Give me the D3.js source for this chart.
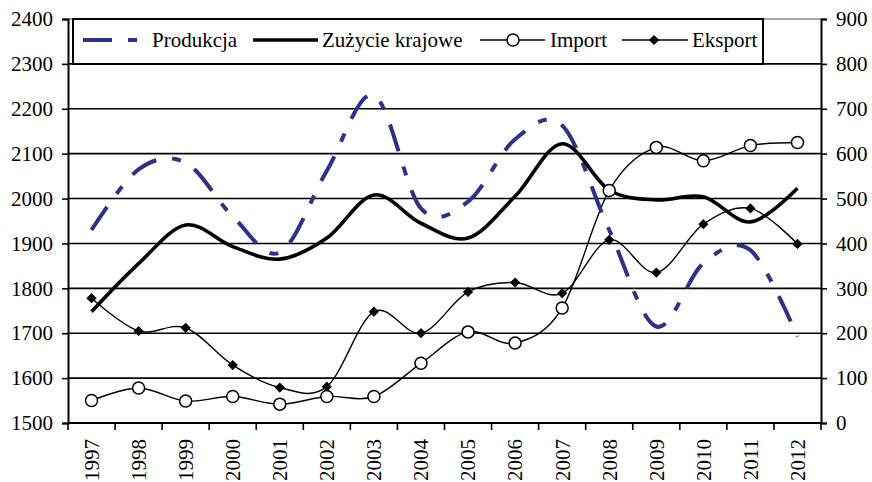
<!DOCTYPE html>
<html>
<head>
<meta charset="utf-8">
<script src="https://cdn.jsdelivr.net/npm/d3@7"></script>
<style>
  body { margin: 0; background: #fff; }
  svg text { font-family: "Liberation Serif", "Times New Roman", serif; fill: #000; }
</style>
</head>
<body>
<div id="chart"></div>
<script>
const years = ["1997","1998","1999","2000","2001","2002","2003","2004","2005","2006","2007","2008","2009","2010","2011","2012"]
// left axis
const produkcja = [1930,2065,2080,1960,1880,2062,2230,1978,1993,2132,2163,1930,1715,1856,1885,1692]
const zuzycie = [1748,1855,1941,1893,1865,1912,2008,1945,1912,2005,2122,2019,1997,2004,1948,2023]
// right axis
const importV = [50,78,49,59,42,59,59,133,203,178,256,518,614,584,618,625]
const eksport = [278,205,212,129,79,81,248,200,292,313,289,408,335,443,478,399]

const leftTicks = [1500,1600,1700,1800,1900,2000,2100,2200,2300,2400]
const rightTicks = [0,100,200,300,400,500,600,700,800,900]

const W = 872, H = 482
const plotL = 68, plotR = 821, plotT = 19, plotB = 423
const navy = "#2E3188"
const fs = 21

const svg = d3.select('#chart').append('svg')
              .attr('width', W)
              .attr('height', H)

const x = d3.scaleBand().domain(years).range([plotL, plotR])
const yL = d3.scaleLinear().domain([1500, 2400]).range([plotB, plotT])
const yR = d3.scaleLinear().domain([0, 900]).range([plotB, plotT])
const cx = d => x(d) + x.bandwidth() / 2

/* gridlines */
svg.append('g').selectAll('line')
   .data(leftTicks.slice(1))
   .enter().append('line')
   .attr('x1', plotL).attr('x2', plotR)
   .attr('y1', d => yL(d)).attr('y2', d => yL(d))
   .attr('stroke', d => d === 2400 ? '#888' : '#000')
   .attr('stroke-width', 1.6)

/* axes */
const gl = svg.append('g').attr('transform', `translate(${plotL},0)`)
  .call(d3.axisLeft(yL).tickValues(leftTicks).tickSize(6).tickPadding(9).tickFormat(d3.format('d')))
const gr = svg.append('g').attr('transform', `translate(${plotR},0)`)
  .call(d3.axisRight(yR).tickValues(rightTicks).tickSize(6).tickPadding(9).tickFormat(d3.format('d')))
;[gl, gr].forEach(g => {
  g.select('.domain').attr('stroke', '#000').attr('stroke-width', 2)
  g.selectAll('.tick line').attr('stroke', '#000').attr('stroke-width', 1.6)
  g.selectAll('.tick text').attr('font-size', fs).attr('font-family', '"Liberation Serif", serif')
})

// bottom axis line + ticks between categories
svg.append('line')
   .attr('x1', plotL).attr('x2', plotR)
   .attr('y1', plotB).attr('y2', plotB)
   .attr('stroke', '#000').attr('stroke-width', 2)
svg.append('g').selectAll('line')
   .data(years.map(d => x(d)).concat([plotR]))
   .enter().append('line')
   .attr('x1', d => d).attr('x2', d => d)
   .attr('y1', plotB).attr('y2', plotB + 7)
   .attr('stroke', '#000').attr('stroke-width', 1.6)
svg.append('g').selectAll('text')
   .data(years)
   .enter().append('text')
   .attr('transform', d => `translate(${cx(d)},439) rotate(-90)`)
   .attr('text-anchor', 'end')
   .attr('dy', '0.35em')
   .attr('font-size', fs)
   .text(d => d)

/* lines */
const curve = d3.curveCardinal.tension(0)
const lineL = d3.line().x((d, i) => cx(years[i])).y(d => yL(d)).curve(curve)
const lineR = d3.line().x((d, i) => cx(years[i])).y(d => yR(d)).curve(curve)

svg.append('path').attr('d', lineR(eksport))
   .attr('fill', 'none').attr('stroke', '#000').attr('stroke-width', 1.4)
svg.append('path').attr('d', lineR(importV))
   .attr('fill', 'none').attr('stroke', '#000').attr('stroke-width', 1.4)
svg.append('path').attr('d', lineL(produkcja))
   .attr('fill', 'none').attr('stroke', navy).attr('stroke-width', 4)
   .attr('stroke-dasharray', '28,16,9,16')
svg.append('path').attr('d', lineL(zuzycie))
   .attr('fill', 'none').attr('stroke', '#000').attr('stroke-width', 3.6)

// diamond = square turned 45 degrees
const diamond = d3.symbol().type(d3.symbolSquare).size(52)
svg.append('g').selectAll('path')
   .data(eksport)
   .enter().append('path')
   .attr('d', diamond)
   .attr('transform', (d, i) => `translate(${cx(years[i])},${yR(d)}) rotate(45)`)
   .attr('fill', '#000')
svg.append('g').selectAll('circle')
   .data(importV)
   .enter().append('circle')
   .attr('cx', (d, i) => cx(years[i]))
   .attr('cy', d => yR(d))
   .attr('r', 6)
   .attr('fill', '#fff').attr('stroke', '#000').attr('stroke-width', 1.5)

/* legend */
const lg = svg.append('g')
lg.append('rect')
  .attr('x', 73).attr('y', plotT).attr('width', 690).attr('height', 45)
  .attr('fill', '#fff').attr('stroke', '#000').attr('stroke-width', 2)
const ly = 40
lg.append('line').attr('x1', 83).attr('x2', 140).attr('y1', ly).attr('y2', ly)
  .attr('stroke', navy).attr('stroke-width', 4).attr('stroke-dasharray', '29,16,9,20')
lg.append('line').attr('x1', 253).attr('x2', 318).attr('y1', ly).attr('y2', ly)
  .attr('stroke', '#000').attr('stroke-width', 3.6)
lg.append('line').attr('x1', 480).attr('x2', 545).attr('y1', ly).attr('y2', ly)
  .attr('stroke', '#000').attr('stroke-width', 1.4)
lg.append('circle').attr('cx', 513).attr('cy', ly).attr('r', 6)
  .attr('fill', '#fff').attr('stroke', '#000').attr('stroke-width', 1.5)
lg.append('line').attr('x1', 622).attr('x2', 688).attr('y1', ly).attr('y2', ly)
  .attr('stroke', '#000').attr('stroke-width', 1.4)
lg.append('path').attr('d', diamond).attr('transform', `translate(654,${ly}) rotate(45)`).attr('fill', '#000')
const legendText = [["Produkcja", 152], ["Zużycie krajowe", 322], ["Import", 550], ["Eksport", 692]]
lg.selectAll('text.lt')
  .data(legendText)
  .enter().append('text')
  .attr('class', 'lt')
  .attr('x', d => d[1]).attr('y', ly)
  .attr('dy', '0.35em')
  .attr('font-size', fs)
  .text(d => d[0])
</script>
</body>
</html>
